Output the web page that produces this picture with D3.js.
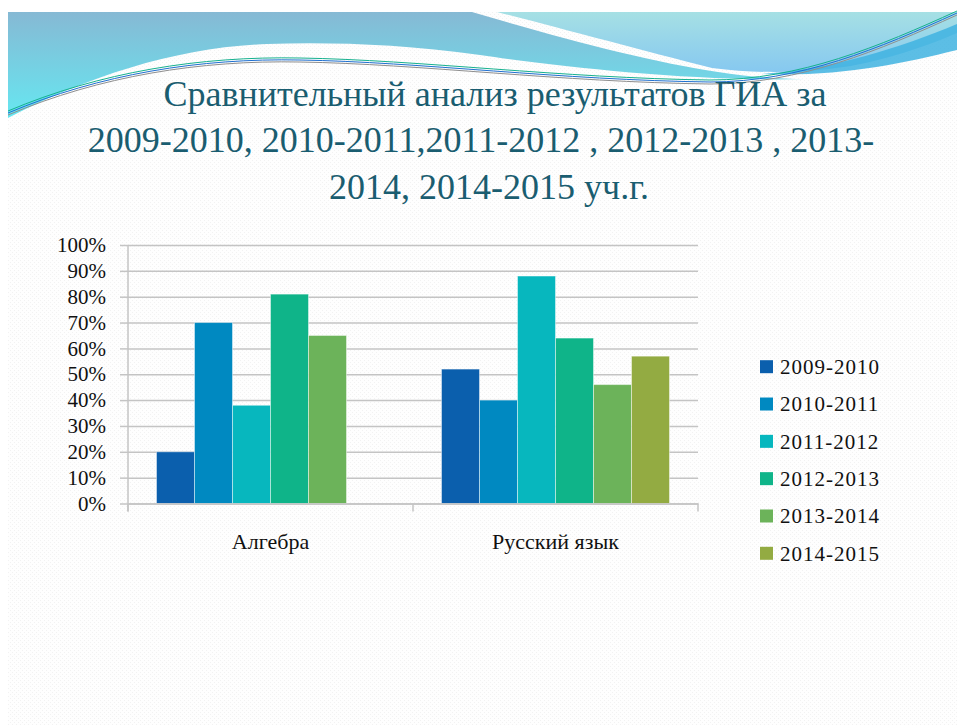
<!DOCTYPE html>
<html>
<head>
<meta charset="utf-8">
<script src="https://cdn.jsdelivr.net/npm/d3@7"></script>
<style>
  html, body { margin: 0; padding: 0; background: #ffffff; }
  svg { display: block; }
  .serif { font-family: "Liberation Serif", "Tinos", "DejaVu Serif", serif; }
</style>
</head>
<body>
<svg id="chart" width="957" height="725"></svg>
<script>
// ---- data ----
const titleLines = [
  "Сравнительный анализ результатов ГИА за",
  "2009-2010, 2010-2011,2011-2012 , 2012-2013 , 2013-",
  "2014, 2014-2015 уч.г."
];
const categories = ["Алгебра", "Русский язык"];
const seriesNames = ["2009-2010", "2010-2011", "2011-2012", "2012-2013", "2013-2014", "2014-2015"];
const algebraValues = [0.20, 0.70, 0.38, 0.81, 0.65, null];
const russianValues = [0.52, 0.40, 0.88, 0.64, 0.46, 0.57];
const yTicks = [0, 0.1, 0.2, 0.3, 0.4, 0.5, 0.6, 0.7, 0.8, 0.9, 1.0];
const seriesColors = ["#0b5fad", "#0089c1", "#07b7be", "#0fb489", "#6cb35a", "#93ab42"];

const valuesByCategory = [algebraValues, russianValues];

const svg = d3.select("#chart");
const W = 957, H = 725;

// ---- slide background ----
const defs = svg.append("defs");
const gLeft = defs.append("linearGradient").attr("id", "gLeft").attr("x1", 0).attr("y1", 0).attr("x2", 0).attr("y2", 1);
gLeft.append("stop").attr("offset", "0%").attr("stop-color", "#86b9d4");
gLeft.append("stop").attr("offset", "100%").attr("stop-color", "#66e7f1");
const gRight = defs.append("linearGradient").attr("id", "gRight").attr("x1", 0).attr("y1", 0).attr("x2", 0).attr("y2", 1);
gRight.append("stop").attr("offset", "0%").attr("stop-color", "#a6e0e4");
gRight.append("stop").attr("offset", "100%").attr("stop-color", "#86c8f0");
const pat = defs.append("pattern").attr("id", "tex").attr("width", 4).attr("height", 4).attr("patternUnits", "userSpaceOnUse");
pat.append("rect").attr("width", 4).attr("height", 4).attr("fill", "#fefefe");
pat.append("rect").attr("x", 0).attr("y", 0).attr("width", 1).attr("height", 1).attr("fill", "#f2f2f2");
pat.append("rect").attr("x", 2).attr("y", 2).attr("width", 1).attr("height", 1).attr("fill", "#f2f2f2");

svg.append("rect").attr("width", W).attr("height", H).attr("fill", "#ffffff");
svg.append("rect").attr("x", 8).attr("y", 12).attr("width", W - 8).attr("height", H - 12).attr("fill", "url(#tex)");

const banner = svg.append("g");
// left blue wave
banner.append("path")
  .attr("d", "M8,12 H472 C 560,38 650,62 718,72 C 750,77 780,79 805,79 C 700,82 560,67 480,55 C 400,44 330,42 267,44 C 180,47 90,75 8,118 Z")
  .attr("fill", "url(#gLeft)");
// right light wave
banner.append("path")
  .attr("d", "M497,12 H957 V33 C 930,45 880,62 844,67 C 800,73 760,74 712,68 C 640,50 560,28 497,12 Z")
  .attr("fill", "url(#gRight)");
// darker swoosh
banner.append("path")
  .attr("d", "M760,74 C 830,70 900,48 957,24 V50 C 900,64 840,77 760,74 Z")
  .attr("fill", "#3fb3e0").attr("opacity", 0.85);
// thin lines
const lineColors = ["#8e8e8e", "#1f6fd0", "#15b08e"];
lineColors.forEach((c, i) => {
  banner.append("path")
    .attr("d", `M8,${115 - i * 2} C 100,${76 - i * 2} 200,${60 - i * 2} 300,${62 - i * 2} C 420,${64 - i * 2} 560,${82 - i * 2} 710,${84 - i * 2} C 800,${84 - i * 2} 880,${50 - i * 2} 957,${15 - i * 2}`)
    .attr("fill", "none").attr("stroke", c).attr("stroke-width", 1);
});

// ---- title ----
const titleX = [495, 481, 489];
const titleY = [106, 152, 199];
svg.append("g").selectAll("text").data(titleLines).join("text")
  .attr("class", "serif")
  .attr("x", (d, i) => titleX[i])
  .attr("y", (d, i) => titleY[i])
  .attr("text-anchor", "middle")
  .attr("font-size", 36)
  .attr("fill", "#1a5d70")
  .text(d => d);

// ---- chart ----
const plot = { left: 128, right: 698, top: 245, bottom: 503.5 };
const x0 = d3.scaleBand().domain(categories).range([plot.left, plot.right]).paddingInner(0).paddingOuter(0);
const x1 = d3.scaleBand().domain(seriesNames).range([0, x0.bandwidth()]).paddingInner(0).paddingOuter(0.75);
const y = d3.scaleLinear().domain([0, 1]).range([plot.bottom, plot.top]);
const color = d3.scaleOrdinal().domain(seriesNames).range(seriesColors);

const gridColor = "#c4c4c4";

// gridlines
const grid = svg.append("g").attr("transform", `translate(${plot.left},0)`)
  .call(d3.axisLeft(y).tickValues(yTicks).tickSize(-(plot.right - plot.left)).tickFormat(""));
grid.select(".domain").remove();
grid.selectAll("line").attr("stroke", gridColor).attr("stroke-width", 1.5);

// y axis
const yAxis = svg.append("g").attr("transform", `translate(${plot.left},0)`)
  .call(d3.axisLeft(y).tickValues(yTicks).tickSize(8).tickPadding(14).tickFormat(d3.format(".0%")));
yAxis.attr("font-family", null).attr("font-size", null);
yAxis.select(".domain").attr("stroke", gridColor).attr("stroke-width", 1.5)
  .attr("d", `M0,${plot.top}V${plot.bottom + 8}`);
yAxis.selectAll(".tick line").attr("stroke", gridColor).attr("stroke-width", 1.5);
yAxis.selectAll(".tick text")
  .attr("class", "serif").attr("font-size", 21).attr("fill", "#111");

// bars
const barData = [];
categories.forEach((c, ci) => {
  seriesNames.forEach((s, si) => {
    const v = valuesByCategory[ci][si];
    if (v !== null) barData.push({ cat: c, series: s, value: v });
  });
});
svg.append("g").selectAll("rect").data(barData).join("rect")
  .attr("x", d => x0(d.cat) + x1(d.series))
  .attr("width", x1.bandwidth())
  .attr("y", d => y(d.value))
  .attr("height", d => y(0) - y(d.value))
  .attr("fill", d => color(d.series))
  .attr("stroke", "#ffffff").attr("stroke-opacity", 0.45).attr("stroke-width", 1);

// x axis
const xAxis = svg.append("g").attr("transform", `translate(0,${plot.bottom})`)
  .call(d3.axisBottom(x0).tickSize(0).tickPadding(30));
xAxis.attr("font-family", null).attr("font-size", null);
xAxis.select(".domain").attr("stroke", gridColor).attr("stroke-width", 1.5);
xAxis.selectAll(".tick text")
  .attr("class", "serif").attr("font-size", 22).attr("fill", "#111");
// category boundary ticks
const edges = categories.map(c => x0(c)).concat([x0(categories[categories.length - 1]) + x0.bandwidth()]);
xAxis.selectAll(".edge").data(edges).join("line").attr("class", "edge")
  .attr("x1", d => d).attr("x2", d => d).attr("y1", 0).attr("y2", 8)
  .attr("stroke", gridColor).attr("stroke-width", 1.5);

// legend
const legendY = d3.scalePoint().domain(seriesNames).range([366.7, 553.3]);
const legend = svg.append("g");
const items = legend.selectAll("g").data(seriesNames).join("g")
  .attr("transform", d => `translate(760,${legendY(d)})`);
items.append("rect").attr("x", 0).attr("y", -6.5).attr("width", 13).attr("height", 13)
  .attr("fill", d => color(d));
items.append("text").attr("class", "serif").attr("x", 20).attr("y", 0).attr("dy", "0.35em")
  .attr("font-size", 21).attr("letter-spacing", 1).attr("fill", "#111")
  .text(d => d);
</script>
</body>
</html>
